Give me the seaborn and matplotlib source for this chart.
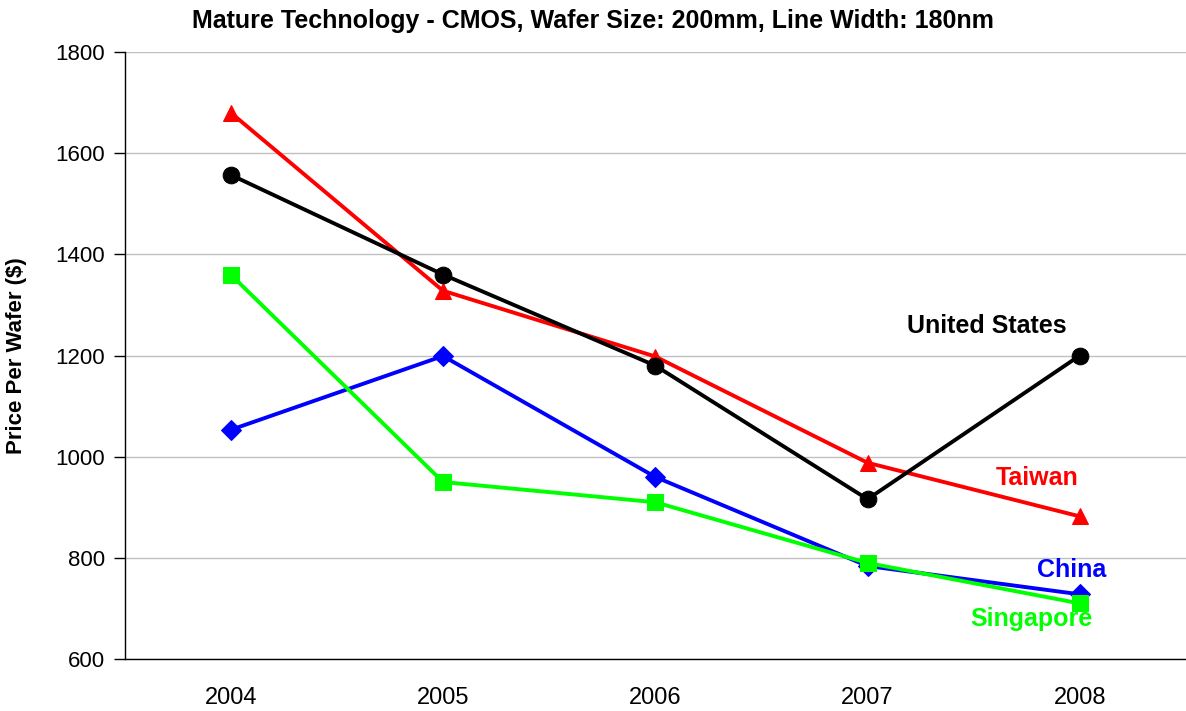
import matplotlib
matplotlib.use("Agg")
import matplotlib.pyplot as plt
import seaborn as sns
import pandas as pd

# Data
years = ["2004", "2005", "2006", "2007", "2008"]
united_states = [1557, 1360, 1180, 916, 1200]
taiwan = [1680, 1328, 1198, 988, 882]
china = [1053, 1199, 960, 784, 728]
singapore = [1360, 950, 910, 790, 710]

series = {
    "United States": (united_states, "black", "o"),
    "Taiwan": (taiwan, "#ff0000", "^"),
    "China": (china, "#0000ff", "D"),
    "Singapore": (singapore, "#00ff00", "s"),
}

# label anchors (x index, y value) placed like the original
label_pos = {
    "United States": (3.56, 1258),
    "Taiwan": (3.80, 958),
    "China": (3.96, 776),
    "Singapore": (3.77, 679),
}

sns.set_theme(style="white")
plt.rcParams["font.family"] = ["Liberation Sans", "DejaVu Sans"]
plt.rcParams["text.color"] = "black"
plt.rcParams["axes.labelcolor"] = "black"
plt.rcParams["xtick.color"] = "black"
plt.rcParams["ytick.color"] = "black"

fig, ax = plt.subplots(figsize=(11.86, 7.11), dpi=100)

# drawing order as in the original (later ones sit on top)
for name in ["China", "Singapore", "Taiwan", "United States"]:
    vals, color, marker = series[name]
    df = pd.DataFrame({"idx": range(len(years)), "price": vals})
    ms = 10 if marker == "D" else 12
    sns.lineplot(data=df, x="idx", y="price", ax=ax, color=color, marker=marker,
                 markersize=ms, markeredgecolor=color, linewidth=2.8)
    lx, ly = label_pos[name]
    ax.text(lx, ly, name, color=color, fontsize=18, fontweight="bold",
            ha="center", va="center")

ax.set_xlim(-0.5, 4.5)
ax.set_ylim(600, 1800)
ax.set_yticks(range(600, 1801, 200))
ax.set_xticks(range(len(years)))
ax.set_xticklabels(years)
ax.set_xticks([i - 0.5 for i in range(len(years) + 1)], minor=True)
ax.tick_params(axis="x", which="major", length=0, labelsize=17, pad=20)
ax.tick_params(axis="x", which="minor", length=8, width=1, color="black", direction="out")
ax.tick_params(axis="y", length=8, width=1, color="black", direction="out",
               labelsize=16, left=True, pad=6)

ax.yaxis.grid(True, color="#c0c0c0", linewidth=1)
ax.set_axisbelow(True)
for side in ["top", "right"]:
    ax.spines[side].set_visible(False)
for side in ["left", "bottom"]:
    ax.spines[side].set_color("black")
    ax.spines[side].set_linewidth(1)

ax.set_xlabel("")
ax.set_ylabel("Price Per Wafer ($)", fontsize=16, fontweight="bold")
ax.yaxis.set_label_coords(-0.092, 0.5)
fig.suptitle("Mature Technology - CMOS, Wafer Size: 200mm, Line Width: 180nm",
             fontsize=18, fontweight="bold", x=0.5, y=0.988, va="top")

fig.subplots_adjust(left=0.105, right=1.0, top=0.927, bottom=0.073)
fig.savefig("out.png", dpi=100)
